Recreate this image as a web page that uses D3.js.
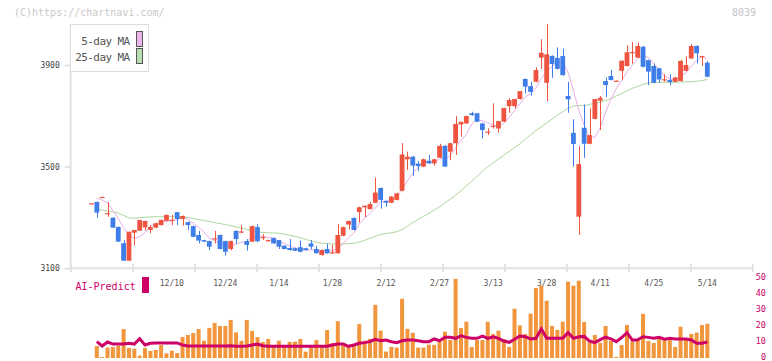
<!DOCTYPE html>
<html><head><meta charset="utf-8">
<script src="https://cdn.jsdelivr.net/npm/d3@7"></script>
<style>
body{margin:0;background:#fff}
svg{display:block}
text{font-family:"DejaVu Sans Mono","Liberation Mono",monospace}
</style>
</head><body><div id="chart"></div>
<script>
// ---- data ----
const open = [3355,3361,3379,3315,3299,3263,3199,3130,3240,3248,
3261,3251,3260,3270,3287,3289,3321,3294,3282,3266,
3231,3211,3207,3216,3231,3207,3176,3247,3243,3207,
3205,3262,3221,3207,3219,3211,3189,3180,3179,3183,
3179,3198,3176,3152,3176,3159,3159,3228,3272,3298,
3321,3340,3333,3358,3416,3365,3358,3369,3405,3529,
3539,3512,3500,3523,3513,3535,3582,3559,3592,3666,
3670,3710,3710,3670,3637,3659,3650,3677,3738,3738,
3766,3845,3817,3834,3929,3830,3936,3928,3935,3778,
3633,3303,3653,3590,3688,3760,3837,3857,3837,3877,
3896,3949,3929,3972,3919,3896,3887,3842,3841,3834,
3837,3877,3926,3975,3933,3909];
const high = [3356,3363,3381,3361,3301,3264,3210,3244,3251,3291,
3288,3270,3280,3292,3312,3310,3322,3308,3284,3268,
3247,3212,3209,3247,3233,3209,3209,3249,3270,3215,
3268,3274,3234,3212,3221,3212,3190,3215,3181,3209,
3181,3211,3188,3174,3198,3192,3274,3264,3288,3301,
3343,3347,3361,3457,3418,3366,3384,3397,3593,3559,
3543,3522,3532,3546,3531,3590,3584,3594,3699,3678,
3701,3716,3712,3672,3651,3749,3680,3731,3769,3767,
3797,3847,3834,3891,4002,4061,3938,3969,3964,3834,
3686,3581,3745,3730,3767,3778,3851,3880,3839,3918,
3978,3990,3988,3975,3921,3906,3889,3864,3864,3853,
3920,3935,3982,3977,3936,3915];
const low = [3355,3299,3379,3303,3258,3203,3129,3129,3189,3247,
3248,3238,3258,3268,3285,3270,3270,3268,3251,3222,
3198,3203,3171,3198,3174,3150,3171,3196,3238,3169,
3203,3202,3211,3206,3196,3176,3175,3169,3168,3163,
3170,3175,3158,3150,3158,3158,3158,3226,3253,3249,
3280,3301,3331,3356,3335,3342,3356,3367,3403,3487,
3464,3483,3498,3511,3504,3533,3499,3526,3546,3618,
3668,3700,3675,3611,3624,3650,3634,3675,3712,3729,
3764,3788,3779,3832,3885,3758,3850,3883,3858,3712,
3500,3231,3535,3588,3686,3644,3774,3839,3836,3841,
3894,3905,3927,3891,3821,3828,3830,3834,3821,3832,
3835,3875,3924,3906,3896,3852];
const close = [3356,3319,3381,3317,3260,3205,3130,3244,3251,3290,
3286,3262,3277,3290,3310,3291,3294,3306,3270,3224,
3209,3205,3185,3218,3176,3165,3207,3215,3245,3192,
3266,3207,3223,3211,3198,3185,3176,3172,3169,3165,
3172,3185,3159,3172,3159,3163,3231,3262,3286,3251,
3340,3346,3353,3398,3369,3358,3382,3395,3548,3539,
3504,3502,3529,3513,3529,3582,3500,3592,3668,3676,
3699,3703,3677,3644,3638,3661,3679,3731,3762,3766,
3797,3815,3794,3880,3948,3942,3904,3885,3860,3765,
3589,3510,3590,3624,3766,3771,3821,3841,3838,3917,
3950,3951,3975,3893,3874,3830,3843,3844,3833,3851,
3916,3900,3975,3946,3935,3854];
const ma5 = [null,3377,3368,3358,3327,3296,3259,3231,3218,3224,
3240,3267,3273,3281,3285,3286,3292,3298,3294,3277,
3261,3243,3219,3208,3199,3190,3190,3196,3202,3205,
3225,3225,3227,3220,3221,3205,3199,3188,3180,3173,
3171,3173,3170,3171,3169,3168,3177,3197,3220,3239,
3274,3297,3315,3338,3361,3365,3372,3380,3410,3444,
3474,3498,3524,3517,3515,3531,3531,3543,3574,3604,
3627,3668,3685,3680,3672,3665,3660,3671,3694,3720,
3747,3774,3787,3810,3847,3876,3894,3912,3908,3871,
3801,3722,3663,3616,3616,3652,3714,3765,3807,3838,
3873,3899,3926,3937,3929,3905,3883,3857,3845,3840,
3857,3869,3895,3918,3934,3922];
const ma25 = [null,3331,3329,3326,3323,3317,3308,3298,3297,3299,
3301,3302,3303,3303,3303,3303,3303,3303,3300,3296,
3292,3288,3284,3280,3276,3272,3268,3263,3258,3253,
3248,3243,3241,3240,3239,3238,3234,3230,3226,3220,
3214,3207,3203,3199,3197,3196,3196,3196,3197,3198,
3203,3210,3218,3226,3233,3237,3240,3244,3252,3265,
3280,3292,3304,3316,3329,3343,3357,3372,3388,3405,
3424,3442,3462,3482,3500,3515,3530,3545,3560,3575,
3590,3608,3625,3642,3657,3672,3687,3702,3716,3730,
3738,3741,3740,3745,3750,3755,3760,3767,3778,3788,
3798,3808,3816,3824,3829,3831,3832,3832,3832,3832,
3833,3834,3834,3836,3839,3843];
const volume = [0,7.5,0.6,6.5,6.9,7.7,18.1,6.3,5.8,1.5,
6.3,4.4,5,8.1,2.9,4.6,3.1,13.1,14.4,15.6,
18.1,10.8,18.8,21.9,20,20,23.8,16,10.7,23.8,
16.9,13,10,11.9,7.7,10.8,6.9,10.1,10.2,11.9,
4,8.1,11.2,6.8,17.5,9.4,23,7.8,6.7,8.2,
21.2,10.8,12,33.2,17.1,4,6.9,6.5,37,18.2,
15.8,6.5,6.5,8.3,8.2,10.2,16.5,11.2,49.4,18.7,
22.7,6.9,11.2,11.2,22.7,15,17.1,11.9,6.9,30.8,
20.4,15,27.7,43.7,45.2,35.8,20,17.5,22.7,47.7,
45.2,48.3,22.5,9.8,14.4,9.5,20,10.7,0.7,8.1,
20.6,10.2,11.8,27.6,10.7,9.4,12,11.5,13,6.9,
19.5,11.5,15,15.9,20.6,21.4];
const aiPredict = [null,10.2,7.5,10,8.7,8.7,8.7,9.2,8.7,12,
8.1,9.2,9.4,9.4,9.4,9.4,9.4,8.1,7.5,7.5,
7.5,7.5,7.5,7.5,7.5,7.5,7.7,7.3,7.3,7.5,
8.1,8.7,7.7,7.3,7.3,7.3,7.3,7.3,7.3,7.3,
7.3,7.3,7.3,7.3,7.3,8.1,8.7,8.7,7.3,8.1,
9.2,9.6,10.2,11.7,10.8,11.2,10.2,9.6,10.8,11.2,
11.2,10.8,10.2,10.2,11.9,10.8,12.9,12.9,12.3,13.9,
12.9,12.3,12.3,13.7,12.3,13.3,12.3,10.6,9.8,11.7,
13.7,13.3,11.9,12.3,18.1,12.3,12.3,12.3,12.3,15.8,
12.3,13.3,13.5,10.6,9.6,11.5,13,12,10.2,12.8,
15.8,11.2,11.4,13.3,12.9,12.3,12.9,11.7,12.3,11.9,
11.9,11.9,11.3,9.2,9.2,10];
const dateLabels = ["12/10","12/24","1/14","1/28","2/12","2/27","3/13","3/28","4/11","4/25","5/14"];
const dateIndex = [15,25,35,45,55,65,75,85,95,105,115];
const priceTicks = [3100,3500,3900];
const volTicks = [0,10,20,30,40,50];

// ---- drawing ----
const W = 772, H = 361;
const UP = "#ef5440", DOWN = "#3f7de8";
const svg = d3.select("#chart").append("svg").attr("width", W).attr("height", H);
svg.append("rect").attr("width", W).attr("height", H).attr("fill", "#fff");

const xDomain = [-3.88, 123.4];
const x = d3.scaleLinear().domain(xDomain).range([70.7, 752.3]);
const y = d3.scaleLinear().domain([3100, 3900]).range([268.3, 65]);
const yv = d3.scaleLinear().domain([0, 50]).range([358, 278]);

// header texts
svg.append("text").attr("x", 14).attr("y", 16).attr("font-size", 10).attr("fill", "#c8c8c8")
  .text("(C)https://chartnavi.com/");
svg.append("text").attr("x", 756).attr("y", 16).attr("font-size", 10).attr("fill", "#c4c4c4")
  .attr("text-anchor", "end").text("8039");

// x axis (evenly spaced ticks)
const xTickVals = d3.range(12).map(k => xDomain[0] + k * (xDomain[1] - xDomain[0]) / 11);
svg.append("g").attr("transform", "translate(0,264)")
  .call(d3.axisBottom(x).tickValues(xTickVals).tickSize(8).tickFormat(""))
  .call(g => g.select(".domain").remove())
  .call(g => g.selectAll("line").attr("stroke", "#dcdcdc").attr("stroke-width", 1.5));
svg.append("line").attr("x1", x.range()[0]).attr("x2", x.range()[1])
  .attr("y1", y(3100)).attr("y2", y(3100)).attr("stroke", "#e2e2e2").attr("stroke-width", 2);

// y axis
svg.append("line").attr("x1", 70.7).attr("x2", 70.7).attr("y1", 24).attr("y2", y(3100))
  .attr("stroke", "#e2e2e2").attr("stroke-width", 2);
svg.append("g").attr("transform", "translate(70.7,0)")
  .call(d3.axisLeft(y).tickValues(priceTicks).tickSize(6).tickPadding(5).tickFormat(d3.format("d")))
  .call(g => g.select(".domain").remove())
  .call(g => g.selectAll("line").attr("stroke", "#dcdcdc").attr("stroke-width", 1.5))
  .call(g => g.selectAll("text").attr("font-size", 8).attr("fill", "#444")
    .attr("font-family", "DejaVu Sans Mono"));

// moving averages
const lineGen = sc => d3.line().defined(d => d != null).x((d, i) => x(i)).y(d => sc(d));
svg.append("path").datum(ma25).attr("fill", "none").attr("stroke", "#acd69c").attr("stroke-width", 1)
  .attr("d", lineGen(y));
svg.append("path").datum(ma5).attr("fill", "none").attr("stroke", "#e8aee8").attr("stroke-width", 1)
  .attr("d", lineGen(y));

// candles
const candles = d3.range(open.length).map(i => ({i, o: open[i], h: high[i], l: low[i], c: close[i]}));
const cg = svg.append("g");
cg.selectAll("line.wick").data(candles).join("line").attr("class", "wick")
  .attr("x1", d => Math.round(x(d.i)) + 0.5).attr("x2", d => Math.round(x(d.i)) + 0.5)
  .attr("y1", d => y(d.h)).attr("y2", d => y(d.l))
  .attr("stroke", d => d.c >= d.o ? UP : DOWN).attr("stroke-width", 1);
cg.selectAll("rect.body").data(candles).join("rect").attr("class", "body")
  .attr("x", d => x(d.i) - 2.4).attr("width", 4.8)
  .attr("y", d => y(Math.max(d.o, d.c)))
  .attr("height", d => Math.max(1.2, Math.abs(y(d.o) - y(d.c))))
  .attr("fill", d => d.c >= d.o ? UP : DOWN);

// legend
svg.append("rect").attr("x", 70.5).attr("y", 24.5).attr("width", 78).attr("height", 47)
  .attr("fill", "#fff").attr("stroke", "#dedede");
const legendItems = [["5-day MA", "#ecb6ec", 44.8], ["25-day MA", "#b9dcb0", 61.3]];
legendItems.forEach(([t, c, yy]) => {
  svg.append("text").attr("x", 129.5).attr("y", yy).attr("text-anchor", "end")
    .attr("font-size", 11).attr("letter-spacing", "-0.6px").attr("fill", "#555").text(t);
});
svg.append("rect").attr("x", 136.5).attr("y", 31.5).attr("width", 6).attr("height", 15)
  .attr("fill", "#ecb6ec").attr("stroke", "#555");
svg.append("rect").attr("x", 136.5).attr("y", 48.5).attr("width", 6).attr("height", 15)
  .attr("fill", "#b9dcb0").attr("stroke", "#555");

// date labels
svg.append("g").selectAll("text").data(dateLabels).join("text")
  .attr("x", (d, k) => x(dateIndex[k])).attr("y", 285.5).attr("text-anchor", "middle")
  .attr("font-size", 8).attr("fill", "#555").text(d => d);

// AI-Predict label
svg.append("text").attr("x", 75.5).attr("y", 289.5).attr("font-size", 10).attr("fill", "#cc0066")
  .text("AI-Predict");
svg.append("rect").attr("x", 142).attr("y", 277).attr("width", 7).attr("height", 16).attr("fill", "#cc0066");

// volume bars
svg.append("g").selectAll("rect").data(volume).join("rect")
  .attr("x", (d, i) => x(i) - 2).attr("width", 4)
  .attr("y", d => yv(d)).attr("height", d => yv(0) - yv(d))
  .attr("fill", "#f2963e");

// AI predict line
svg.append("path").datum(aiPredict).attr("fill", "none").attr("stroke", "#cc0066")
  .attr("stroke-width", 3).attr("stroke-linejoin", "miter").attr("d", lineGen(yv));

// right axis
svg.append("g").attr("transform", "translate(766,-1)")
  .call(d3.axisLeft(yv).tickValues(volTicks).tickSize(0).tickPadding(0))
  .call(g => g.select(".domain").remove())
  .call(g => g.selectAll("text").attr("font-size", 8.5).attr("fill", "#cc0066")
    .attr("font-family", "DejaVu Sans Mono"));
</script>
</body></html>
